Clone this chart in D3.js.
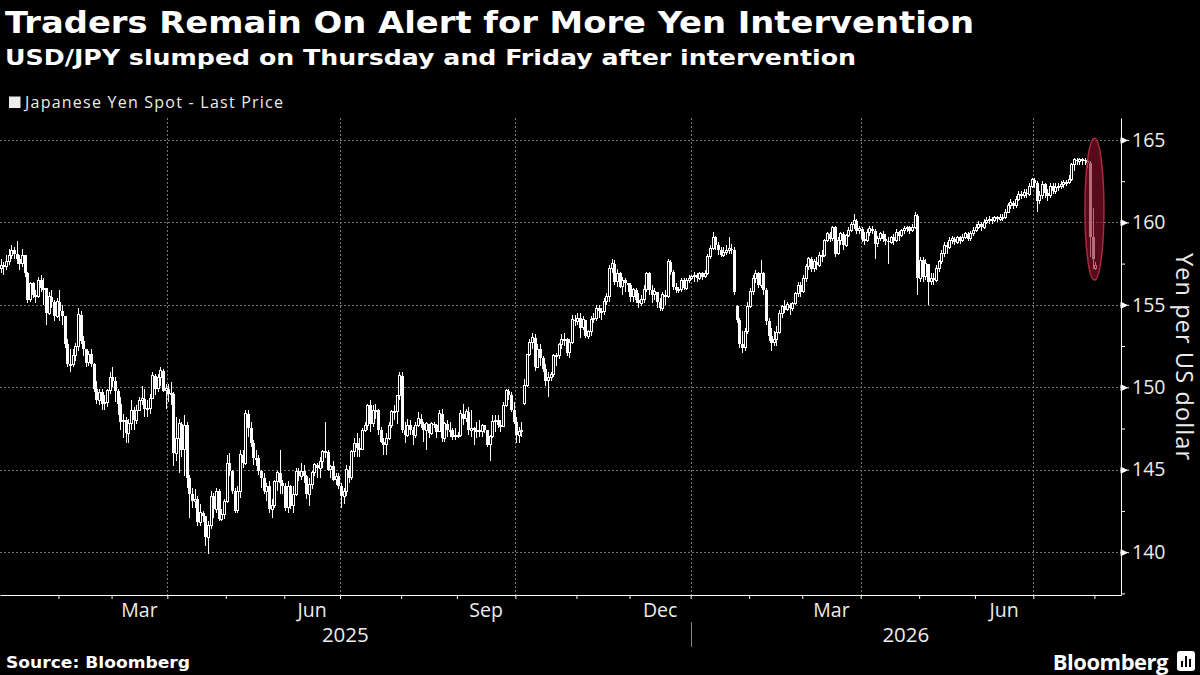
<!DOCTYPE html>
<html>
<head>
<meta charset="utf-8">
<script src="https://cdn.jsdelivr.net/npm/d3@7"></script>
<style>
  body { margin: 0; background: #000; }
  svg { display: block; background: #000; }
  text { font-family: 'Open Sans', 'Noto Sans', sans-serif; }
  .heavy { font-family: 'DejaVu Sans', sans-serif; font-weight: bold; fill: #fff; }
  .axis text { font-family: 'Open Sans', sans-serif; font-size: 19.5px; fill: #ececec; }
  .axis line, .axis path { stroke: #fff; }
  .grid line { stroke: #777; stroke-width: 1; stroke-dasharray: 2,2; }
</style>
</head>
<body>
<svg width="1200" height="675"></svg>
<script>
(function (d3) {
  'use strict';

  const titleText = 'Traders Remain On Alert for More Yen Intervention';
  const subtitleText = 'USD/JPY slumped on Thursday and Friday after intervention';
  const legendText = 'Japanese Yen Spot - Last Price';
  const yAxisLabelText = 'Yen per US dollar';
  const sourceText = 'Source: Bloomberg';

  // trading days run from firstDay; the axis runs on to axisEndDay
  const firstDay = '2025-01-02';
  const axisEndDay = '2026-08-14';

  // daily closes, one row per week (Mon-Fri)
  const closes = [
    // Jan 2025
    157.4, 157.3,
    157.6, 158.0, 158.3, 158.1, 157.8,
    157.5, 158.0, 156.9, 155.3, 156.3,
    155.6, 155.5, 156.5, 156.0, 156.0,
    154.5, 155.5, 155.2, 154.3, 155.2,
    // Feb
    154.6, 154.3, 152.6, 151.4, 151.4,
    151.9, 152.5, 154.4, 152.8, 152.3,
    151.5, 152.0, 151.4, 149.9, 149.2,
    149.7, 149.0, 149.1, 149.8, 150.6,
    // Mar
    150.4, 149.8, 149.0, 147.9, 148.0,
    147.2, 147.8, 148.6, 148.0, 148.6,
    149.2, 149.3, 148.7, 148.7, 149.3,
    150.7, 149.9, 150.6, 151.0, 149.8,
    149.9, 149.6, 149.6, 146.0, 146.9,
    // Apr
    147.8, 146.2, 147.7, 144.5, 143.5,
    143.1, 143.2, 141.8, 142.4, 142.2,
    140.9, 141.6, 143.4, 142.6, 143.7,
    142.0, 142.3, 143.1, 145.4, 144.9,
    // May
    143.7, 142.5, 143.7, 145.9, 145.4,
    148.4, 147.5, 146.6, 145.7, 145.7,
    144.9, 144.5, 143.7, 144.0, 142.6,
    142.8, 144.3, 144.8, 144.2, 144.0,
    // Jun
    142.7, 144.0, 142.8, 143.5, 144.9,
    144.6, 144.9, 144.6, 143.5, 144.1,
    144.8, 145.3, 145.1, 145.5, 146.1,
    146.1, 145.0, 145.2, 144.4, 144.6,
    144.0, 143.4, 143.7, 145.0, 144.5,
    // Jul
    146.1, 146.6, 146.3, 146.2, 147.4,
    147.7, 148.9, 147.8, 148.6, 148.6,
    147.4, 146.7, 146.5, 146.9, 147.7,
    148.5, 148.5, 149.5, 150.7, 147.4,
    // Aug
    147.1, 147.7, 147.4, 147.1, 147.7,
    148.1, 147.8, 147.4, 147.8, 147.2,
    147.8, 147.7, 147.3, 148.4, 146.9,
    147.8, 147.4, 147.4, 147.0, 147.1,
    // Sep
    147.1, 148.4, 148.1, 148.5, 147.4,
    147.5, 147.4, 147.4, 147.3, 147.7,
    147.4, 146.5, 147.0, 147.9, 148.0,
    147.7, 147.6, 148.9, 149.8, 149.5,
    148.6, 147.9, 147.1, 147.3, 147.4,
    // Oct
    150.1, 152.0, 152.7, 153.0, 151.2,
    152.3, 151.8, 151.1, 150.4, 150.6,
    150.8, 151.9, 151.9, 152.6, 152.9,
    152.9, 152.1, 152.7, 154.1, 154.0,
    // Nov
    154.2, 153.6, 154.1, 153.1, 153.4,
    154.1, 154.2, 154.8, 154.6, 154.6,
    155.2, 155.5, 157.2, 157.5, 156.4,
    156.9, 156.1, 156.5, 156.3, 156.2,
    // Dec
    155.5, 155.9, 155.3, 155.1, 155.3,
    155.9, 156.9, 155.9, 155.6, 155.8,
    155.2, 154.8, 155.6, 155.5, 157.6,
    157.0, 156.1, 155.9, 155.9, 156.5,
    156.0, 156.5, 156.6, 156.7, 156.8,
    // Jan 2026
    156.6, 156.9, 156.7, 156.9, 157.9,
    158.4, 159.1, 158.6, 158.3, 158.0,
    158.2, 158.3, 158.4, 158.3, 155.8,
    154.1, 152.6, 152.4, 153.4, 154.9,
    // Feb
    155.8, 156.6, 156.9, 156.2, 156.9,
    155.9, 154.0, 153.1, 152.7, 152.9,
    153.3, 154.5, 154.9, 154.7, 155.0,
    154.8, 155.1, 155.7, 156.2, 155.8,
    // Mar
    156.6, 157.3, 157.8, 157.2, 157.6,
    157.4, 158.0, 158.0, 158.9, 159.3,
    159.0, 159.7, 158.1, 158.9, 159.3,
    158.6, 159.2, 159.5, 159.9, 160.1,
    159.5, 159.6, 159.0, 158.9, 159.4,
    // Apr
    159.6, 159.5, 158.7, 159.0, 159.3,
    159.0, 158.9, 158.8, 159.1, 158.9,
    159.4, 159.2, 159.5, 159.6, 159.7,
    159.5, 159.7, 160.4, 156.6, 157.7,
    // May
    156.7, 157.5, 156.4, 156.6, 156.5,
    157.2, 157.6, 158.1, 158.6, 158.5,
    158.9, 159.0, 158.8, 159.1, 158.9,
    159.1, 159.3, 159.0, 159.3, 159.5,
    // Jun
    159.7, 159.9, 159.7, 160.0, 160.1,
    160.2, 160.1, 160.3, 160.2, 160.3,
    160.3, 160.6, 161.0, 161.2, 161.0,
    161.4, 161.7, 161.6, 161.8, 161.7,
    162.2, 162.6, 162.4, 161.3, 161.6,
    // Jul
    162.3, 161.8, 161.6, 162.2, 161.9,
    162.1, 162.2, 162.3, 162.4, 162.4,
    162.6, 163.5, 163.8, 163.7, 163.8,
    163.8, 163.7, 163.6, 159.1, 157.8,
    // Aug
    157.4
  ];

  const highs = [
    157.8, 157.6,
    158.0, 158.4, 158.6, 158.5, 158.9,
    158.0, 158.4, 158.0, 157.0, 156.4,
    156.4, 155.9, 156.7, 156.8, 156.6,
    156.0, 155.8, 155.9, 155.3, 155.4,
    155.9, 155.0, 154.3, 152.9, 152.3,
    152.3, 152.7, 154.8, 154.6, 153.1,
    152.2, 152.2, 152.3, 151.5, 150.4,
    149.9, 149.9, 149.5, 149.9, 150.9,
    151.2, 150.6, 149.9, 149.4, 148.4,
    148.2, 148.1, 149.2, 148.8, 148.9,
    149.4, 150.1, 149.9, 149.2, 149.6,
    150.9, 150.8, 150.8, 151.2, 151.1,
    150.2, 150.2, 150.3, 149.7, 148.2,
    148.1, 147.9, 148.3, 147.9, 144.7,
    143.9, 143.8, 143.4, 142.9, 142.5,
    142.1, 141.9, 143.7, 143.6, 143.9,
    143.8, 142.6, 143.2, 145.9, 146.0,
    145.0, 143.9, 144.0, 146.2, 146.2,
    148.6, 148.6, 147.9, 146.8, 146.2,
    145.9, 145.0, 144.8, 144.2, 144.3,
    143.2, 144.4, 144.9, 146.2, 144.4,
    144.2, 144.3, 144.1, 144.0, 145.1,
    145.1, 145.4, 145.3, 144.7, 144.5,
    144.9, 145.4, 145.4, 145.8, 146.2,
    147.9, 146.2, 145.3, 145.5, 144.8,
    144.8, 144.2, 143.9, 145.3, 145.2,
    146.2, 146.9, 147.2, 146.9, 147.5,
    147.9, 149.0, 149.2, 148.9, 149.0,
    148.7, 147.6, 146.9, 147.2, 147.9,
    148.6, 148.9, 149.5, 150.9, 150.9,
    147.9, 148.1, 148.0, 147.6, 147.9,
    148.5, 148.4, 147.9, 147.9, 147.8,
    147.9, 147.9, 147.8, 148.6, 148.7,
    147.9, 148.0, 147.9, 147.5, 147.5,
    147.3, 148.6, 149.0, 148.7, 148.8,
    148.6, 147.6, 147.9, 148.0, 147.8,
    147.7, 147.4, 147.1, 148.3, 148.3,
    148.3, 148.0, 149.1, 149.9, 149.9,
    149.7, 149.1, 148.2, 147.6, 147.9,
    150.5, 152.0, 152.9, 153.3, 153.2,
    152.6, 152.6, 151.9, 151.4, 150.9,
    150.9, 152.0, 152.1, 152.7, 153.2,
    153.3, 153.0, 152.9, 154.4, 154.4,
    154.5, 154.5, 154.3, 154.1, 153.5,
    154.3, 154.5, 155.0, 155.0, 154.8,
    155.4, 155.7, 157.4, 157.8, 157.7,
    157.2, 157.0, 156.7, 156.6, 156.3,
    156.3, 156.0, 156.0, 155.7, 155.6,
    156.2, 157.0, 157.0, 156.2, 156.0,
    155.8, 155.4, 155.8, 155.9, 157.8,
    157.7, 157.1, 156.3, 156.1, 156.6,
    156.6, 156.6, 156.8, 156.8, 157.0,
    156.9, 157.0, 157.0, 157.1, 158.1,
    158.6, 159.4, 159.2, 158.8, 158.5,
    158.5, 158.6, 159.1, 158.7, 158.5,
    155.0, 154.2, 153.4, 153.6, 155.2,
    156.0, 156.8, 157.1, 157.0, 157.7,
    157.0, 156.0, 154.2, 153.6, 153.4,
    153.7, 154.7, 155.0, 155.3, 155.2,
    155.1, 155.2, 155.8, 156.4, 156.4,
    156.8, 157.5, 157.9, 157.9, 157.8,
    157.9, 158.2, 158.3, 159.0, 159.4,
    159.4, 159.8, 159.8, 159.1, 159.4,
    159.4, 159.3, 159.7, 160.0, 160.5,
    160.2, 159.8, 159.7, 159.4, 159.6,
    159.8, 159.8, 159.6, 159.2, 159.4,
    159.5, 159.3, 159.1, 159.2, 159.3,
    159.6, 159.5, 159.6, 159.8, 159.8,
    159.8, 159.9, 160.6, 160.5, 157.9,
    157.9, 157.8, 157.5, 156.9, 156.9,
    157.4, 157.7, 158.3, 158.8, 158.8,
    159.1, 159.2, 159.1, 159.2, 159.2,
    159.3, 159.4, 159.4, 159.5, 159.7,
    159.9, 160.1, 160.0, 160.2, 160.3,
    160.4, 160.3, 160.4, 160.4, 160.5,
    160.5, 160.8, 161.2, 161.4, 161.3,
    161.6, 161.9, 161.9, 162.0, 162.0,
    162.4, 162.7, 162.7, 162.5, 161.9,
    162.5, 162.4, 162.0, 162.4, 162.4,
    162.4, 162.4, 162.5, 162.6, 162.6,
    162.9, 163.6, 163.9, 163.9, 163.9,
    163.9, 163.9, 163.8, 163.7, 160.9,
    157.6
  ];

  const lows = [
    156.9, 156.8,
    157.1, 157.4, 157.8, 157.8, 157.5,
    157.1, 157.3, 156.7, 155.1, 155.2,
    155.4, 155.1, 155.4, 155.8, 155.0,
    153.8, 154.4, 154.8, 154.0, 154.2,
    154.0, 153.8, 152.4, 151.2, 150.9,
    151.2, 151.6, 152.2, 152.6, 151.9,
    151.2, 151.3, 151.2, 149.7, 149.0,
    148.9, 148.6, 148.6, 148.8, 149.6,
    150.0, 149.1, 148.3, 147.4, 146.9,
    146.6, 146.6, 147.4, 147.4, 147.8,
    148.6, 148.9, 148.2, 148.2, 148.4,
    149.3, 149.5, 149.7, 150.1, 149.7,
    148.7, 149.1, 148.9, 145.2, 145.5,
    144.8, 145.8, 144.6, 143.9, 142.1,
    142.7, 142.7, 141.6, 141.6, 141.8,
    140.4, 139.9, 141.4, 142.1, 142.4,
    141.9, 141.9, 142.0, 143.0, 144.6,
    143.5, 142.4, 142.4, 143.3, 145.1,
    145.3, 147.0, 146.4, 145.3, 145.2,
    144.7, 143.9, 143.5, 143.1, 142.4,
    142.1, 142.7, 143.7, 143.5, 143.5,
    142.5, 142.4, 142.6, 142.4, 143.4,
    144.3, 144.4, 144.2, 143.2, 142.8,
    143.8, 144.6, 144.5, 144.5, 145.1,
    145.7, 144.9, 144.5, 144.3, 144.1,
    143.8, 142.7, 142.9, 143.4, 144.2,
    144.4, 145.8, 145.8, 145.8, 146.2,
    147.3, 147.4, 147.3, 147.6, 148.1,
    147.1, 146.6, 145.9, 145.9, 146.8,
    147.5, 148.0, 147.8, 149.2, 147.2,
    146.6, 147.0, 147.1, 146.5, 146.9,
    147.6, 147.5, 146.7, 146.2, 146.9,
    147.1, 147.5, 146.9, 147.3, 146.7,
    146.7, 147.0, 147.0, 146.8, 146.8,
    146.9, 147.0, 147.7, 147.9, 147.1,
    147.0, 146.5, 146.9, 147.0, 147.0,
    147.2, 146.4, 145.5, 146.9, 147.3,
    147.5, 147.3, 147.6, 148.8, 149.2,
    148.5, 147.8, 146.6, 146.6, 147.0,
    148.9, 150.0, 151.9, 152.3, 151.0,
    151.3, 151.3, 150.9, 150.1, 149.4,
    150.4, 150.6, 151.3, 151.7, 152.3,
    152.5, 151.9, 151.8, 152.6, 153.7,
    153.8, 153.0, 153.5, 153.0, 152.9,
    153.1, 153.9, 154.0, 154.2, 154.1,
    154.4, 155.0, 155.2, 156.9, 156.2,
    156.1, 156.0, 155.6, 155.8, 155.8,
    155.2, 155.2, 155.1, 154.8, 154.9,
    155.1, 155.8, 155.6, 155.1, 155.3,
    154.8, 154.6, 154.6, 155.0, 155.4,
    156.8, 155.9, 155.7, 155.7, 155.8,
    155.9, 155.9, 156.3, 156.5, 156.4,
    156.4, 156.5, 156.5, 156.6, 156.8,
    157.8, 158.3, 158.3, 158.0, 157.9,
    157.9, 158.0, 158.1, 158.1, 155.6,
    153.9, 152.4, 152.1, 152.2, 153.2,
    154.8, 155.6, 156.3, 156.0, 156.0,
    155.6, 153.8, 152.8, 152.2, 152.5,
    152.5, 153.2, 154.2, 154.5, 154.6,
    154.4, 154.6, 155.0, 155.5, 155.5,
    155.7, 156.4, 157.1, 157.0, 157.0,
    157.1, 157.3, 157.6, 157.9, 158.8,
    158.8, 158.9, 157.9, 158.0, 158.6,
    158.3, 158.5, 159.1, 159.4, 159.6,
    159.3, 159.3, 158.8, 158.6, 158.8,
    159.2, 159.3, 157.8, 158.5, 158.9,
    158.8, 158.6, 157.5, 158.7, 158.6,
    158.8, 158.9, 159.1, 159.3, 159.4,
    159.3, 159.4, 159.6, 155.6, 156.4,
    156.4, 156.5, 155.0, 156.2, 156.2,
    156.4, 157.0, 157.5, 157.9, 158.1,
    158.4, 158.7, 158.6, 158.7, 158.7,
    158.8, 159.0, 158.9, 158.9, 159.2,
    159.4, 159.6, 159.5, 159.6, 159.9,
    159.9, 159.9, 160.0, 160.0, 160.1,
    160.1, 160.2, 160.6, 160.8, 160.8,
    160.9, 161.3, 161.4, 161.5, 161.5,
    161.6, 162.1, 162.1, 160.6, 161.1,
    161.4, 161.5, 161.3, 161.5, 161.7,
    161.7, 161.9, 162.0, 162.1, 162.2,
    162.3, 162.5, 163.1, 163.5, 163.5,
    163.5, 163.5, 163.3, 157.9, 157.2,
    157.1
  ];

  // days whose open is not the previous close (price gaps)
  const gapOpens = [
    ['2025-01-02', 157.2],
    ['2025-10-06', 149.0],
    ['2026-01-26', 154.9],
    ['2026-08-03', 157.2]
  ];

  const yMajorTicks = [140, 145, 150, 155, 160, 165];
  const yMinorTicks = [137.5, 142.5, 147.5, 152.5, 157.5, 162.5];
  const yDomain = [137.4, 166.33];
  const monthLabels = ['2025-03', '2025-06', '2025-09', '2025-12', '2026-03', '2026-06'];
  const yearLabels = ['2025', '2026'];
  const gridMonths = [0, 3, 6, 9];   // Jan, Apr, Jul, Oct

  // circled intervention days
  const circled = { day: '2026-08-03', top: 165.1, bottom: 156.5 };

  const svg = d3.select('svg');

  const plot = { left: 0, right: 1121, top: 118, bottom: 595 };

  const parseDate = d3.timeParse('%Y-%m-%d');
  const fmtDay = d3.timeFormat('%Y-%m-%d');
  const fmtMonth = d3.timeFormat('%Y-%m');

  const slots = d3.timeDay
    .range(parseDate(firstDay), d3.timeDay.offset(parseDate(axisEndDay), 1))
    .filter(d => d.getDay() > 0 && d.getDay() < 6);
  const dayIndex = new Map(slots.map((d, i) => [fmtDay(d), i]));
  const gapMap = new Map(gapOpens);

  const n = Math.min(closes.length, highs.length, lows.length);
  const data = closes.slice(0, n).map((c, i) => {
    const key = fmtDay(slots[i]);
    const open = gapMap.has(key) ? gapMap.get(key) : closes[i - 1];
    return {
      i, open, close: c,
      high: Math.max(highs[i], open, c),
      low: Math.min(lows[i], open, c)
    };
  });

  const xScale = d3.scaleLinear()
    .domain([0, slots.length])
    .range([plot.left, plot.right]);

  const yScale = d3.scaleLinear()
    .domain(yDomain)
    .range([plot.bottom, plot.top]);

  // first slot of each month
  const monthStarts = slots
    .map((d, i) => ({ d, i }))
    .filter(({ d, i }) => i > 0 && d.getMonth() !== slots[i - 1].getMonth());
  const firstOfMonth = new Map(monthStarts.map(m => [fmtMonth(m.d), m.i]));

  // grid
  const grid = svg.append('g').attr('class', 'grid');
  grid.selectAll('.h').data(yMajorTicks).enter().append('line')
    .attr('x1', plot.left).attr('x2', plot.right)
    .attr('y1', d => Math.round(yScale(d)) + 0.5)
    .attr('y2', d => Math.round(yScale(d)) + 0.5);
  grid.selectAll('.v').data(monthStarts.filter(m => gridMonths.includes(m.d.getMonth())))
    .enter().append('line')
    .attr('x1', m => Math.round(xScale(m.i)) + 0.5)
    .attr('x2', m => Math.round(xScale(m.i)) + 0.5)
    .attr('y1', plot.top).attr('y2', plot.bottom);

  // candles: hollow when up, filled when down
  const bodyW = 2;
  const isUp = d => d.close >= d.open;
  const candles = svg.append('g')
    .attr('shape-rendering', 'crispEdges')
    .selectAll('g').data(data).enter().append('g');

  candles.append('line')
    .attr('x1', d => xScale(d.i + 0.5)).attr('x2', d => xScale(d.i + 0.5))
    .attr('y1', d => yScale(d.high)).attr('y2', d => yScale(d.low))
    .attr('stroke', '#fff').attr('stroke-width', 1);

  candles.append('rect')
    .attr('x', d => xScale(d.i + 0.5) - (isUp(d) ? bodyW : bodyW + 1) / 2)
    .attr('width', d => isUp(d) ? bodyW : bodyW + 1)
    .attr('y', d => yScale(Math.max(d.open, d.close)))
    .attr('height', d => Math.max(1, yScale(Math.min(d.open, d.close)) - yScale(Math.max(d.open, d.close))))
    .attr('fill', d => isUp(d) ? '#000' : '#fff')
    .attr('stroke', '#fff')
    .attr('stroke-width', d => isUp(d) ? 1 : 0);

  // intervention ellipse
  const cx = xScale(dayIndex.get(circled.day));
  svg.append('ellipse')
    .attr('cx', cx)
    .attr('cy', (yScale(circled.top) + yScale(circled.bottom)) / 2)
    .attr('rx', 9.5)
    .attr('ry', (yScale(circled.bottom) - yScale(circled.top)) / 2)
    .attr('fill', 'rgb(140, 18, 42)')
    .attr('fill-opacity', 0.62)
    .attr('stroke', '#a8283e')
    .attr('stroke-width', 1.5);

  // y axis on the right
  const yAxisG = svg.append('g')
    .attr('class', 'axis')
    .attr('transform', `translate(${plot.right},0)`)
    .call(d3.axisRight(yScale)
      .tickValues(yMajorTicks)
      .tickSize(8)
      .tickSizeOuter(0)
      .tickPadding(3)
      .tickFormat(d3.format('d')));
  yAxisG.selectAll('.tick').append('path')
    .attr('d', 'M0,-3L6,0L0,3Z')
    .attr('fill', '#fff');

  svg.append('g')
    .attr('class', 'axis')
    .attr('transform', `translate(${plot.right},0)`)
    .call(d3.axisRight(yScale)
      .tickValues(yMinorTicks)
      .tickSize(4)
      .tickSizeOuter(0)
      .tickFormat(''))
    .select('.domain').remove();

  // x axis
  svg.append('g')
    .attr('class', 'axis')
    .attr('transform', `translate(0,${plot.bottom})`)
    .call(d3.axisBottom(xScale)
      .tickValues(monthStarts.map(m => m.i))
      .tickSize(4)
      .tickSizeOuter(0)
      .tickFormat(''));

  const monthFmt = d3.timeFormat('%b');
  svg.append('g').selectAll('text').data(monthLabels).enter().append('text')
    .attr('x', key => {
      const start = firstOfMonth.has(key) ? firstOfMonth.get(key) : 0;
      const next = monthStarts.find(m => m.i > start);
      return xScale((start + next.i) / 2);
    })
    .attr('y', 617)
    .attr('text-anchor', 'middle')
    .attr('font-size', 19.5)
    .attr('fill', '#ececec')
    .text(key => monthFmt(parseDate(key + '-01')));

  const yearStart = yr => yr === yearLabels[0] ? 0 : firstOfMonth.get(yr + '-01');
  svg.append('g').selectAll('text').data(yearLabels).enter().append('text')
    .attr('x', (yr, k) => {
      const a = yearStart(yr);
      const b = k + 1 < yearLabels.length ? yearStart(yearLabels[k + 1]) : slots.length;
      return xScale((a + b) / 2);
    })
    .attr('y', 642)
    .attr('text-anchor', 'middle')
    .attr('font-size', 20.5)
    .attr('fill', '#ececec')
    .text(yr => yr);

  yearLabels.slice(1).forEach(yr => {
    const xs = Math.round(xScale(yearStart(yr))) + 0.5;
    svg.append('line')
      .attr('x1', xs).attr('x2', xs)
      .attr('y1', 622).attr('y2', 647)
      .attr('stroke', '#888');
  });

  // y axis label
  svg.append('text')
    .attr('transform', `translate(1176,${(plot.top + plot.bottom) / 2}) rotate(90)`)
    .attr('text-anchor', 'middle')
    .attr('font-size', 23.5)
    .attr('fill', '#ececec')
    .attr('textLength', 207)
    .attr('lengthAdjust', 'spacing')
    .text(yAxisLabelText);

  // titles
  svg.append('text')
    .attr('class', 'heavy')
    .attr('x', 5).attr('y', 33)
    .attr('font-size', 30)
    .attr('textLength', 969)
    .attr('lengthAdjust', 'spacingAndGlyphs')
    .text(titleText);

  svg.append('text')
    .attr('class', 'heavy')
    .attr('x', 5).attr('y', 65)
    .attr('font-size', 21.5)
    .attr('textLength', 851)
    .attr('lengthAdjust', 'spacingAndGlyphs')
    .text(subtitleText);

  // legend
  svg.append('rect')
    .attr('x', 9).attr('y', 96.5)
    .attr('width', 11.5).attr('height', 11.5)
    .attr('fill', '#ececec');
  svg.append('text')
    .attr('x', 25).attr('y', 107.5)
    .attr('font-size', 16)
    .attr('fill', '#ececec')
    .attr('textLength', 258)
    .attr('lengthAdjust', 'spacing')
    .text(legendText);

  // footer
  svg.append('text')
    .attr('class', 'heavy')
    .attr('x', 6).attr('y', 668)
    .attr('font-size', 15.5)
    .attr('textLength', 184)
    .attr('lengthAdjust', 'spacingAndGlyphs')
    .text(sourceText);

  svg.append('text')
    .attr('x', 1168).attr('y', 670)
    .attr('text-anchor', 'end')
    .attr('font-size', 22)
    .attr('font-weight', 'bold')
    .attr('fill', '#fff')
    .attr('letter-spacing', -0.5)
    .text('Bloomberg');

  const logo = svg.append('g').attr('transform', 'translate(1177,651)');
  logo.append('rect')
    .attr('width', 18).attr('height', 20).attr('rx', 3)
    .attr('fill', '#fff');
  [[4, 10, 2, 6], [8, 5, 2, 11], [12, 8, 2, 8]].forEach(([bx, by, bw, bh]) => {
    logo.append('rect')
      .attr('x', bx).attr('y', by).attr('width', bw).attr('height', bh)
      .attr('fill', '#000');
  });

}(d3));
</script>
</body>
</html>
